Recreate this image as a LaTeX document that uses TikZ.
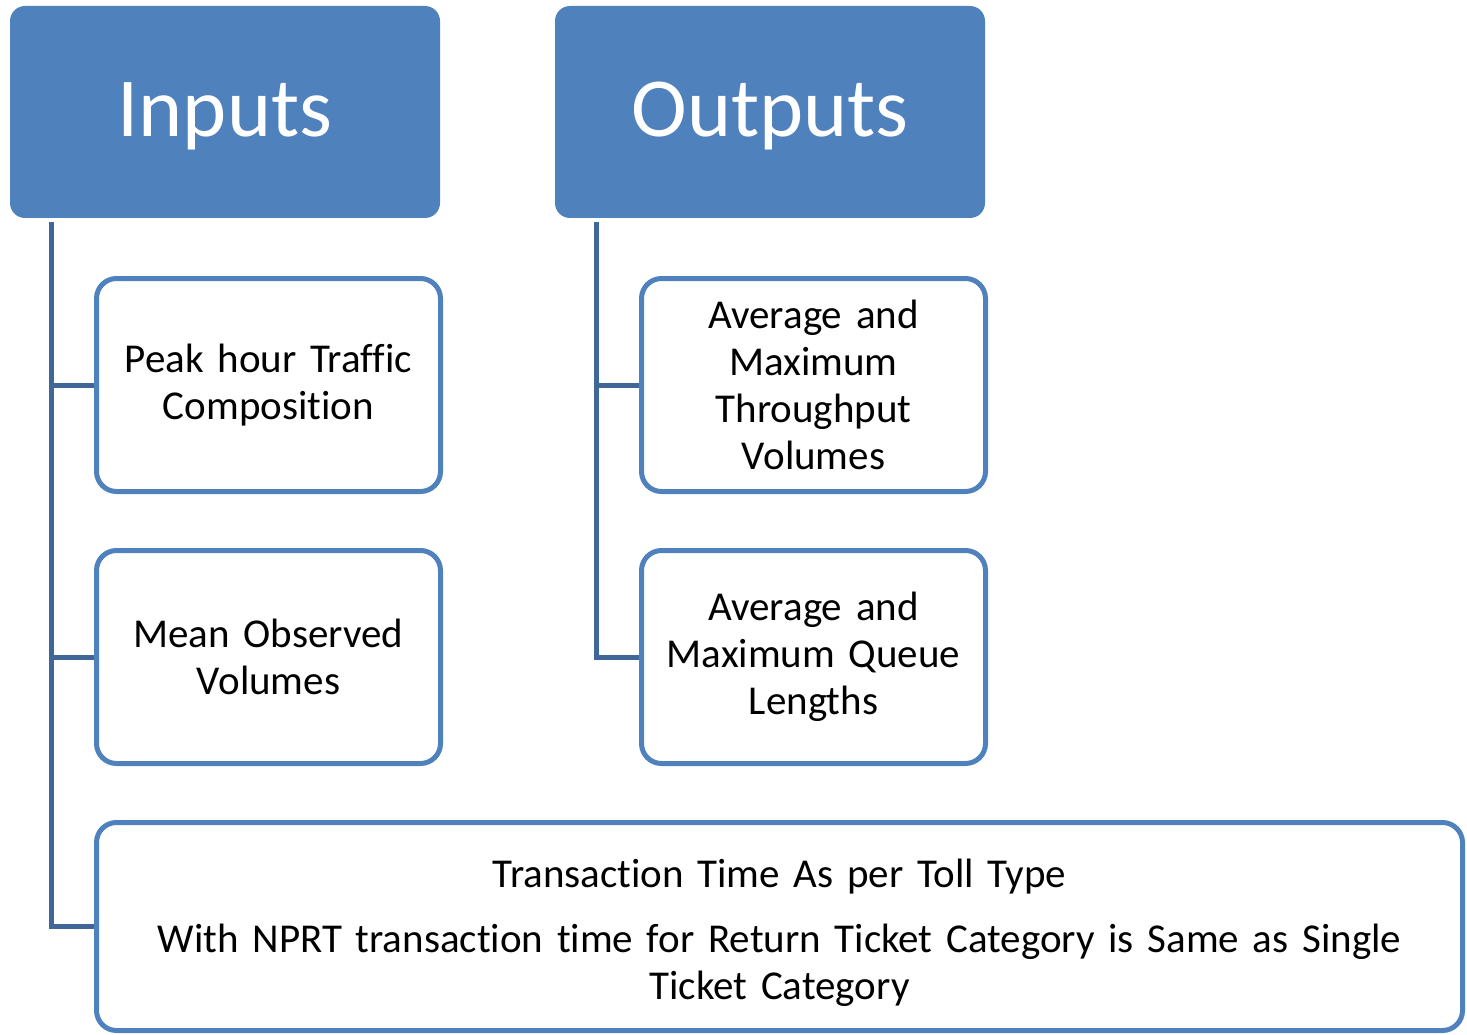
\documentclass[tikz,border=0pt]{standalone}
\usepackage{fontspec}
\setmainfont{Carlito}[Ligatures=NoCommon]
\definecolor{hdr}{HTML}{4F81BD}
\definecolor{conn}{HTML}{3F6797}
\begin{document}
\begin{tikzpicture}[x=1pt,y=-1pt,
  header/.style={draw=none,fill=hdr,rounded corners=15pt,minimum width=430pt,minimum height=212pt,
    text=white,font=\fontsize{84}{100}\selectfont,inner sep=0pt,text height=60pt,text depth=10pt},
  child/.style={draw=hdr,line width=5pt,fill=white,rounded corners=20pt,minimum width=344pt,minimum height=213pt,
    text width=336pt,align=center,font=\fontsize{41}{47}\selectfont,inner sep=0pt},
  link/.style={draw=conn,line width=5pt}]
\useasboundingbox (0,0) rectangle (1467,1035);
\node[header] (inp) at (225,112) {Inputs};
\node[header] (outp) at (770,112) {Outputs};
\node[child] (peak) at (268.5,385) {Peak hour Traffic\\Composition};
\node[child] (mean) at (268.5,657) {Mean Observed\\Volumes};
\node[child] (thr) at (813.5,385) {Average and\\Maximum\\Throughput\\Volumes};
\node[child] (que) at (813.5,657) {Average and\\Maximum Queue\\Lengths};
\node[child,minimum width=1366pt,minimum height=208pt,text width=1350pt] (bot) at (779.5,926.5)
  {\rule{0pt}{42pt}Transaction Time As per Toll Type\\[18pt]With NPRT transaction time for Return Ticket Category is Same as Single\\Ticket Category};
\coordinate (ia) at (51,222);
\coordinate (oa) at (596,222);
\draw[link] (ia) |- (bot.west);
\draw[link] (ia |- peak.west) -- (peak.west);
\draw[link] (ia |- mean.west) -- (mean.west);
\draw[link] (oa) |- (que.west);
\draw[link] (oa |- thr.west) -- (thr.west);
\end{tikzpicture}
\end{document}
